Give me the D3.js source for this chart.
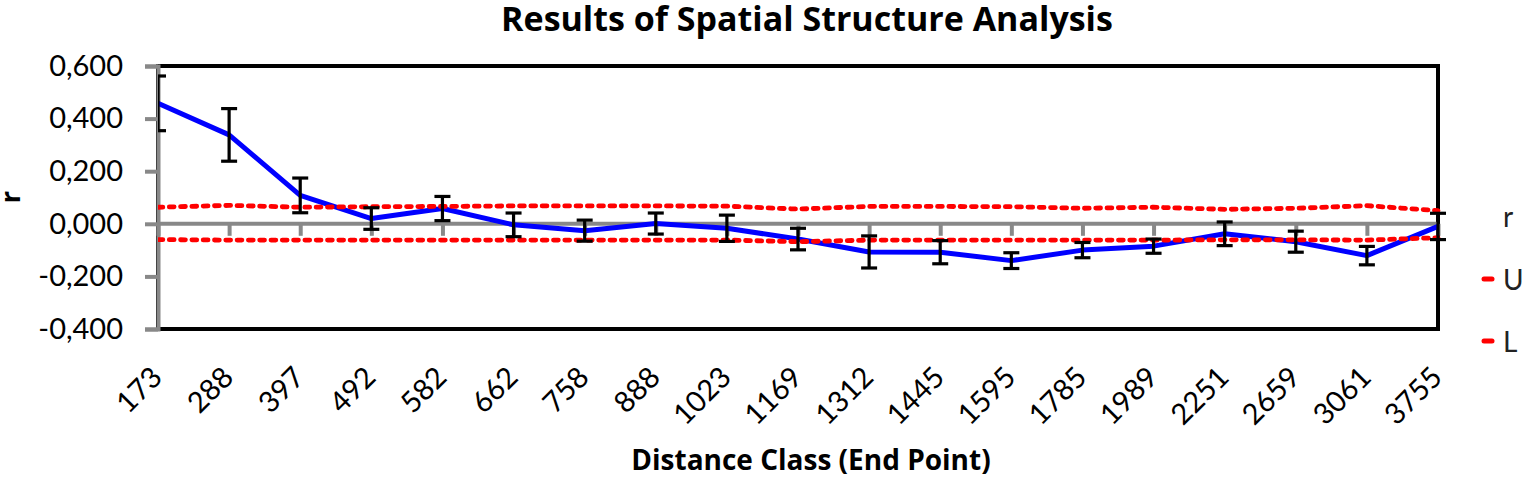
<!DOCTYPE html>
<html>
<head>
<meta charset="utf-8">
<script src="https://cdn.jsdelivr.net/npm/d3@7"></script>
<style>
  html, body { margin: 0; padding: 0; background: #fff; }
  svg { display: block; font-family: Lato, "Open Sans", sans-serif; }
</style>
</head>
<body>
<svg id="chart" width="1524" height="487"></svg>
<script>
const categories = ["173","288","397","492","582","662","758","888","1023","1169","1312","1445","1595","1785","1989","2251","2659","3061","3755"];
const rValues = [0.458, 0.338, 0.108, 0.020, 0.058, -0.004, -0.026, 0.001, -0.017, -0.058, -0.107, -0.108, -0.140, -0.100, -0.085, -0.038, -0.068, -0.121, -0.010];
const rErrors = [0.104, 0.100, 0.066, 0.041, 0.046, 0.045, 0.040, 0.040, 0.050, 0.041, 0.061, 0.044, 0.030, 0.029, 0.027, 0.045, 0.040, 0.035, 0.050];
const upperValues = [0.063, 0.070, 0.063, 0.065, 0.066, 0.068, 0.068, 0.068, 0.067, 0.056, 0.066, 0.066, 0.065, 0.059, 0.063, 0.055, 0.059, 0.069, 0.050];
const lowerValues = [-0.060, -0.062, -0.062, -0.062, -0.062, -0.062, -0.062, -0.062, -0.062, -0.068, -0.062, -0.062, -0.062, -0.062, -0.062, -0.061, -0.061, -0.062, -0.053];
const yTicks = [-0.4, -0.2, 0, 0.2, 0.4, 0.6];
const seriesNames = ["r", "U", "L"];

const svg = d3.select("#chart");
const pL = 158, pR = 1438, pT = 66, pB = 329;

const x = d3.scalePoint().domain(categories).range([pL, pR]);
const y = d3.scaleLinear().domain([-0.4, 0.6]).range([pB, pT]);

const locale = d3.formatLocale({decimal: ",", thousands: ".", grouping: [3], currency: ["", ""], minus: "-"});
const fmt = locale.format(".3f");

const gray = "#888888";
const boldFont = "'Open Sans', Lato, sans-serif";

// clip
svg.append("defs").append("clipPath").attr("id", "clip")
  .append("rect").attr("x", pL).attr("y", pT - 5).attr("width", pR - pL + 10).attr("height", pB - pT + 10);

// plot frame (black)
svg.append("rect")
  .attr("x", pL).attr("y", pT)
  .attr("width", pR - pL).attr("height", pB - pT)
  .attr("fill", "none").attr("stroke", "#000").attr("stroke-width", 4);

// y axis
const yAxis = d3.axisLeft(y).tickValues(yTicks).tickFormat(fmt).tickSize(13).tickPadding(22);
const gy = svg.append("g").attr("transform", `translate(${pL},0)`).call(yAxis);
gy.select(".domain").attr("stroke", gray).attr("stroke-width", 4);
gy.selectAll(".tick line").attr("stroke", gray).attr("stroke-width", 4);
gy.selectAll(".tick text").attr("fill", "#000").style("font-size", "29px").style("font-family", "Lato, sans-serif");

// x axis at y=0
const xAxis = d3.axisBottom(x).tickSize(12).tickFormat("");
const gx = svg.append("g").attr("transform", `translate(0,${y(0)})`).call(xAxis);
gx.select(".domain").attr("stroke", gray).attr("stroke-width", 4).attr("d", `M${pL},0H${pR}`);
gx.selectAll(".tick line").attr("stroke", gray).attr("stroke-width", 4);

// x tick labels at bottom, rotated
svg.append("g").selectAll("text").data(categories).join("text")
  .attr("transform", d => `translate(${x(d) + 6},${379}) rotate(-45)`)
  .attr("text-anchor", "end")
  .style("font-size", "29px")
  .attr("fill", "#000")
  .text(d => d);

const plot = svg.append("g").attr("clip-path", "url(#clip)");

// r line
const line = d3.line().x((d, i) => x(categories[i])).y(d => y(d));
plot.append("path").datum(rValues)
  .attr("d", line).attr("fill", "none")
  .attr("stroke", "#0000ff").attr("stroke-width", 5).attr("stroke-linejoin", "round");

// U and L dashed lines
[upperValues, lowerValues].forEach(vals => {
  plot.append("path").datum(vals)
    .attr("d", line).attr("fill", "none")
    .attr("stroke", "#ff0000").attr("stroke-width", 4.8)
    .attr("stroke-dasharray", "4.8,6.5").attr("stroke-linecap", "round");
});

// error bars
const eb = plot.append("g").attr("stroke", "#000").attr("stroke-width", 3.2);
rValues.forEach((v, i) => {
  const cx = x(categories[i]);
  const y1 = y(v + rErrors[i]), y2 = y(v - rErrors[i]);
  eb.append("line").attr("x1", cx).attr("x2", cx).attr("y1", y1).attr("y2", y2);
  eb.append("line").attr("x1", cx - 8).attr("x2", cx + 8).attr("y1", y1).attr("y2", y1);
  eb.append("line").attr("x1", cx - 8).attr("x2", cx + 8).attr("y1", y2).attr("y2", y2);
});

// title
svg.append("text").attr("x", 807).attr("y", 31).attr("text-anchor", "middle")
  .style("font-family", boldFont).style("font-size", "34px").style("font-weight", "bold")
  .text("Results of Spatial Structure Analysis");

// x axis title
svg.append("text").attr("x", 811).attr("y", 470).attr("text-anchor", "middle")
  .style("font-family", boldFont).style("font-size", "28px").style("font-weight", "bold")
  .text("Distance Class (End Point)");

// y axis title
svg.append("text").attr("transform", "translate(20,197) rotate(-90)").attr("text-anchor", "middle")
  .style("font-family", boldFont).style("font-size", "27px").style("font-weight", "bold").text("r");

// legend
const legendY = [227, 290, 352];
const lg = svg.append("g");
seriesNames.forEach((name, i) => {
  lg.append("text").attr("x", 1503).attr("y", legendY[i]).style("font-size", "28px").attr("fill", "#222").text(name);
  if (i > 0) {
    lg.append("line").attr("x1", 1484).attr("x2", 1492).attr("y1", legendY[i] - 11).attr("y2", legendY[i] - 11)
      .attr("stroke", "#ff0000").attr("stroke-width", 5).attr("stroke-linecap", "round");
  }
});
</script>
</body>
</html>
